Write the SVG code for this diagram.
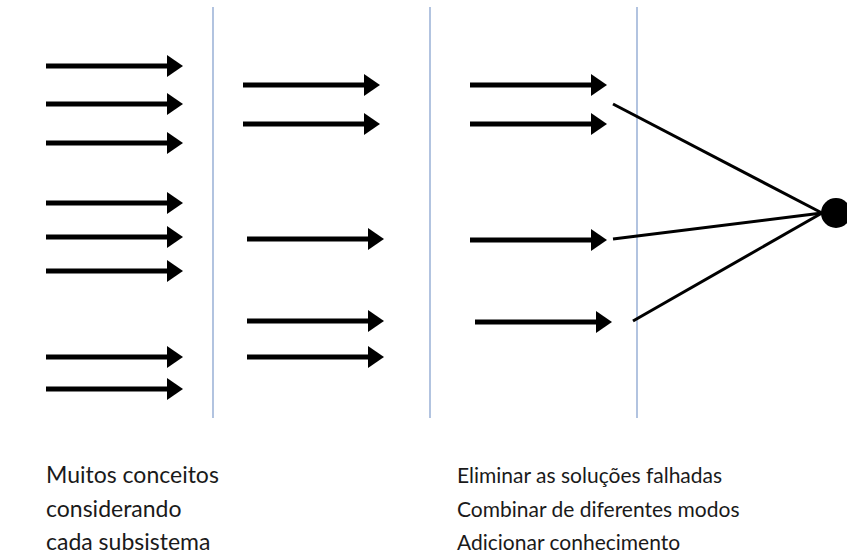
<svg xmlns="http://www.w3.org/2000/svg" width="847" height="558" viewBox="0 0 847 558">
  <style>
    .sep { stroke: #7f9ccb; stroke-width: 1.2; fill: none; }
    .arr { stroke: #000; stroke-width: 5; fill: none; marker-end: url(#head); }
    .ray { stroke: #000; stroke-width: 3; fill: none; }
    .lbl { font-family: "Lato", "Open Sans", "Liberation Sans", sans-serif; fill: #1a1a1a; }
    .l { font-size: 23px; }
    .r { font-size: 21px; }
  </style>
  <defs>
    <marker id="head" viewBox="0 0 16 22" refX="1" refY="11" markerWidth="16" markerHeight="22" markerUnits="userSpaceOnUse" orient="auto">
      <path d="M0,0 L16,11 L0,22 Z" fill="#000"/>
    </marker>
  </defs>
  <rect width="847" height="558" fill="#fff"/>
  <g id="separators">
    <line class="sep" x1="213" y1="7" x2="213" y2="418"/>
    <line class="sep" x1="430" y1="7" x2="430" y2="418"/>
    <line class="sep" x1="637" y1="7" x2="637" y2="418"/>
  </g>
  <g id="connectors">
    <line class="arr" x1="46" y1="66" x2="168" y2="66"/>
    <line class="arr" x1="46" y1="104" x2="168" y2="104"/>
    <line class="arr" x1="46" y1="143" x2="168" y2="143"/>
    <line class="arr" x1="46" y1="203" x2="168" y2="203"/>
    <line class="arr" x1="46" y1="237" x2="168" y2="237"/>
    <line class="arr" x1="46" y1="271" x2="168" y2="271"/>
    <line class="arr" x1="46" y1="357" x2="168" y2="357"/>
    <line class="arr" x1="46" y1="389" x2="168" y2="389"/>
    <line class="arr" x1="243" y1="85" x2="365" y2="85"/>
    <line class="arr" x1="243" y1="124" x2="365" y2="124"/>
    <line class="arr" x1="247" y1="239" x2="369" y2="239"/>
    <line class="arr" x1="247" y1="321" x2="369" y2="321"/>
    <line class="arr" x1="247" y1="357" x2="369" y2="357"/>
    <line class="arr" x1="470" y1="85" x2="592" y2="85"/>
    <line class="arr" x1="470" y1="124" x2="592" y2="124"/>
    <line class="arr" x1="470" y1="240" x2="592" y2="240"/>
    <line class="arr" x1="475" y1="322" x2="597" y2="322"/>
    <line class="ray" x1="613" y1="104" x2="822" y2="213"/>
    <line class="ray" x1="613" y1="239" x2="822" y2="213"/>
    <line class="ray" x1="633" y1="321" x2="822" y2="213"/>
  </g>
  <g id="dot">
    <circle cx="836" cy="213" r="15" fill="#000"/>
  </g>
  <g id="label-left">
    <text class="lbl l" x="46" y="483">Muitos conceitos</text>
    <text class="lbl l" x="46" y="517">considerando</text>
    <text class="lbl l" x="46" y="550">cada subsistema</text>
  </g>
  <g id="label-right">
    <text class="lbl r" x="457" y="483">Eliminar as soluções falhadas</text>
    <text class="lbl r" x="457" y="517">Combinar de diferentes modos</text>
    <text class="lbl r" x="457" y="550">Adicionar conhecimento</text>
  </g>
</svg>
